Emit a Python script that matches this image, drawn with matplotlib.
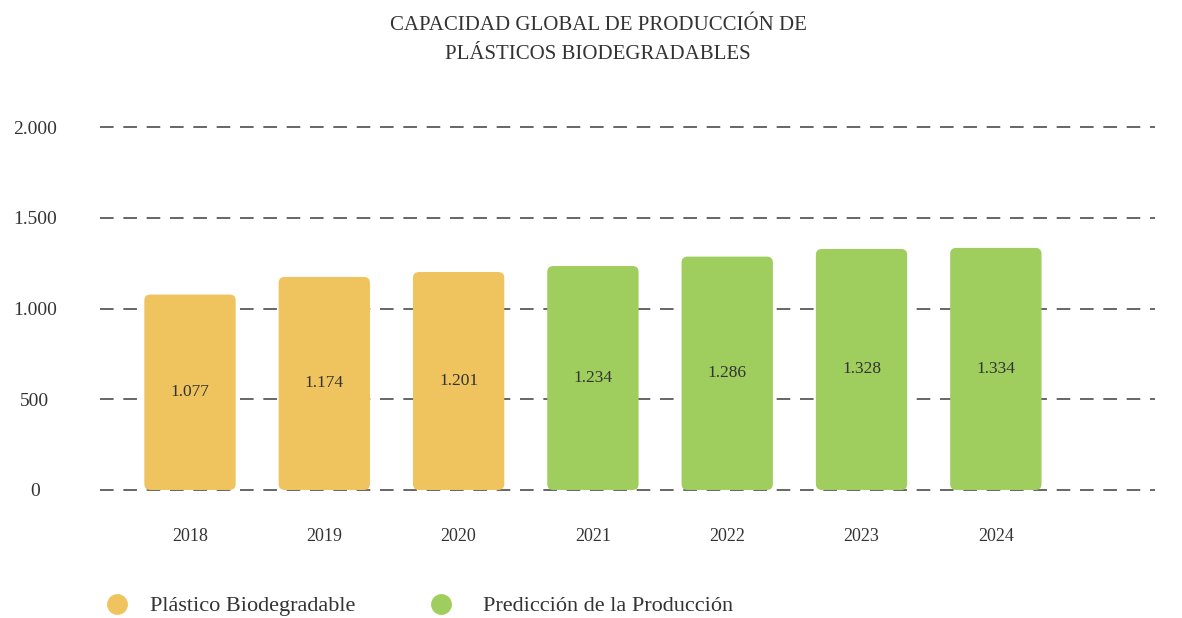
import matplotlib.pyplot as plt
from matplotlib.patches import FancyBboxPatch
from matplotlib.lines import Line2D

years = ["2018", "2019", "2020", "2021", "2022", "2023", "2024"]
capacity = [1077, 1174, 1201, 1234, 1286, 1328, 1334]
labels = ["1.077", "1.174", "1.201", "1.234", "1.286", "1.328", "1.334"]
series = ["hist", "hist", "hist", "pred", "pred", "pred", "pred"]
yticks = [0, 500, 1000, 1500, 2000]
ytick_labels = ["0", "500", "1.000", "1.500", "2.000"]

yellow = "#EFC45F"
green = "#A0CE5E"
colors = {"hist": yellow, "pred": green}

plt.rcParams['font.family'] = ['Liberation Serif', 'DejaVu Serif']

fig = plt.figure(figsize=(11.82, 6.18), dpi=100)
ax = fig.add_axes([100 / 1182, 0.2013, 1055 / 1182, 0.599])

x = list(range(len(years)))
bars = ax.bar(x, capacity, width=0.68, color=[colors[s] for s in series], zorder=2)

# swap the plain bars for rounded ones
for b, s in zip(bars, series):
    b.set_visible(False)
    r = FancyBboxPatch((b.get_x(), b.get_y()), b.get_width(), b.get_height(),
                       boxstyle="round,pad=0,rounding_size=0.045", mutation_aspect=733,
                       facecolor=colors[s], edgecolor="none", zorder=2)
    ax.add_patch(r)

for xi, v, lab in zip(x, capacity, labels):
    ax.text(xi, v / 2, lab, ha="center", va="center", fontsize=12.5, color="#333333", zorder=3)

for t in yticks:
    ax.axhline(t, color="#666666", lw=1.4, dashes=(7, 5), zorder=1, clip_on=False)

ax.set_xlim(-0.67, 7.185)
ax.set_ylim(-20, 2020)
ax.set_yticks(yticks)
ax.set_yticklabels(ytick_labels, ha="center", fontsize=14, color="#333333")
ax.set_xticks(x)
ax.set_xticklabels(years, fontsize=13, color="#333333")
ax.tick_params(axis="y", length=0, pad=47)
ax.tick_params(axis="x", length=0, pad=25)
for sp in ax.spines.values():
    sp.set_visible(False)

fig.text(0.506, 1 - 40 / 618, "CAPACIDAD GLOBAL DE PRODUCCIÓN DE\nPLÁSTICOS BIODEGRADABLES",
         ha="center", va="center", fontsize=15, color="#333333", linespacing=1.75)

h1 = Line2D([], [], marker="o", ls="none", color=yellow, markersize=14)
h2 = Line2D([], [], marker="o", ls="none", color=green, markersize=14)
fig.legend([h1], ["Plástico Biodegradable"], loc="center left",
           bbox_to_anchor=(106 / 1182, 1 - 606 / 618), frameon=False, fontsize=16,
           handlelength=1, handletextpad=1.0, borderpad=0, borderaxespad=0,
           labelcolor="#333333")
fig.legend([h2], ["Predicción de la Producción"], loc="center left",
           bbox_to_anchor=(430 / 1182, 1 - 606 / 618), frameon=False, fontsize=16,
           handlelength=1, handletextpad=1.38, borderpad=0, borderaxespad=0,
           labelcolor="#333333")

fig.savefig("out.png", dpi=100)
